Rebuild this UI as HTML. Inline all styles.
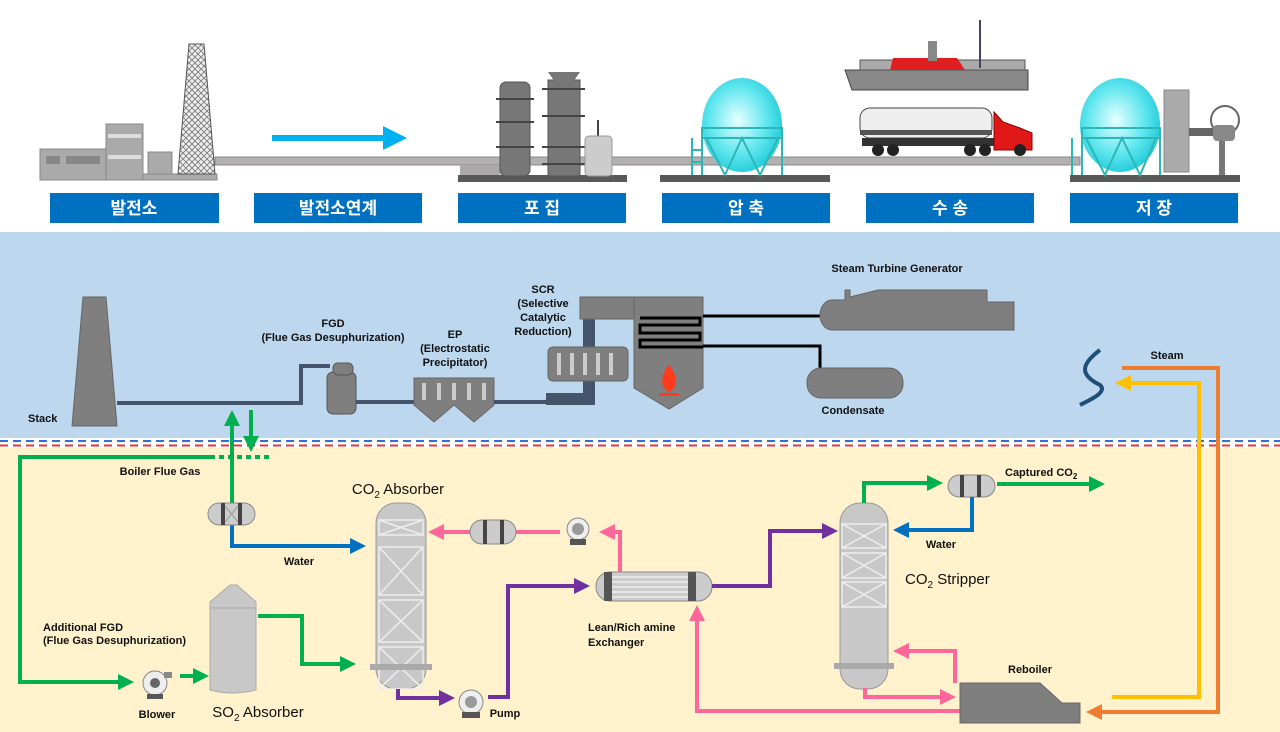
<!DOCTYPE html>
<html><head><meta charset="utf-8"><style>
body{margin:0;background:#fff}
svg{display:block}
text{font-family:"Liberation Sans","Noto Sans CJK KR",sans-serif}
.l{font-size:11px;font-weight:bold;fill:#111}
.big{font-size:15px;fill:#111}
.k{font-size:17px;font-weight:bold;fill:#fff}
</style></head><body>
<svg width="1280" height="732" viewBox="0 0 1280 732" xmlns="http://www.w3.org/2000/svg">
<defs>
<radialGradient id="sph" cx="0.45" cy="0.45" r="0.6"><stop offset="0" stop-color="#e8ffff"/><stop offset="0.6" stop-color="#5fe6ee"/><stop offset="1" stop-color="#1cc8d8"/></radialGradient>
<marker id="aG" markerWidth="4" markerHeight="4" refX="2" refY="2" orient="auto" markerUnits="strokeWidth"><path d="M0,0L4,2L0,4z" fill="#00b050"/></marker>
<marker id="aB" markerWidth="4" markerHeight="4" refX="2" refY="2" orient="auto" markerUnits="strokeWidth"><path d="M0,0L4,2L0,4z" fill="#0070c0"/></marker>
<marker id="aP" markerWidth="4" markerHeight="4" refX="2" refY="2" orient="auto" markerUnits="strokeWidth"><path d="M0,0L4,2L0,4z" fill="#ff6699"/></marker>
<marker id="aV" markerWidth="4" markerHeight="4" refX="2" refY="2" orient="auto" markerUnits="strokeWidth"><path d="M0,0L4,2L0,4z" fill="#7030a0"/></marker>
<marker id="aO" markerWidth="4" markerHeight="4" refX="2" refY="2" orient="auto" markerUnits="strokeWidth"><path d="M0,0L4,2L0,4z" fill="#ed7d31"/></marker>
<marker id="aY" markerWidth="4" markerHeight="4" refX="2" refY="2" orient="auto" markerUnits="strokeWidth"><path d="M0,0L4,2L0,4z" fill="#ffc000"/></marker>
<marker id="aC" markerWidth="4" markerHeight="4" refX="2" refY="2" orient="auto" markerUnits="strokeWidth"><path d="M0,0L4,2L0,4z" fill="#00b0f0"/></marker>
<pattern id="hatch" width="6" height="6" patternUnits="userSpaceOnUse"><rect width="6" height="6" fill="#eee"/><path d="M0,0L6,6M6,0L0,6" stroke="#777" stroke-width="0.8"/></pattern>
</defs>

<!-- TOP -->
<rect x="215" y="157" width="865" height="8" fill="#b3b0b0" stroke="#888" stroke-width="1"/>
<!-- power plant -->
<rect x="40" y="149" width="68" height="31" fill="#aaa" stroke="#888"/>
<rect x="46" y="156" width="14" height="8" fill="#888"/><rect x="66" y="156" width="34" height="8" fill="#888"/>
<rect x="106" y="124" width="37" height="56" fill="#aaa" stroke="#888"/>
<rect x="108" y="134" width="33" height="4" fill="#ddd"/><rect x="108" y="155" width="33" height="4" fill="#ddd"/>
<rect x="148" y="152" width="24" height="24" fill="#aaa" stroke="#888"/>
<rect x="143" y="174" width="74" height="6" fill="#aaa" stroke="#888"/>
<polygon points="189,44 204,44 215,174 178,174" fill="url(#hatch)" stroke="#555"/>
<line x1="272" y1="138" x2="395" y2="138" stroke="#00b0f0" stroke-width="6" marker-end="url(#aC)"/>
<!-- capture -->
<rect x="458" y="175" width="169" height="7" fill="#595959"/>
<rect x="460" y="165" width="40" height="10" fill="#aaa"/>
<rect x="500" y="82" width="30" height="94" rx="6" fill="#777" stroke="#555"/>
<rect x="548" y="80" width="32" height="96" fill="#777" stroke="#555"/>
<polygon points="548,72 580,72 573,82 555,82" fill="#777"/>
<g stroke="#444" stroke-width="2"><line x1="496" y1="99" x2="534" y2="99"/><line x1="496" y1="122" x2="534" y2="122"/><line x1="496" y1="147" x2="534" y2="147"/><line x1="542" y1="89" x2="585" y2="89"/><line x1="542" y1="116" x2="585" y2="116"/><line x1="542" y1="147" x2="585" y2="147"/><line x1="542" y1="164" x2="585" y2="164"/><line x1="598" y1="120" x2="598" y2="140"/></g>
<rect x="585" y="136" width="27" height="40" rx="4" fill="#ccc" stroke="#999"/>
<!-- compress -->
<rect x="660" y="175" width="170" height="7" fill="#595959"/>
<ellipse cx="742" cy="125" rx="40" ry="47" fill="url(#sph)"/>
<g stroke="#2bb7b7" stroke-width="2" fill="none"><rect x="702" y="128" width="80" height="10"/><line x1="702" y1="128" x2="702" y2="175"/><line x1="782" y1="128" x2="782" y2="175"/><path d="M706,138L725,175L742,138L760,175L778,138"/><line x1="692" y1="138" x2="692" y2="175"/><line x1="692" y1="150" x2="702" y2="150"/><line x1="692" y1="162" x2="702" y2="162"/></g>
<!-- ship -->
<polygon points="845,70 1028,70 1028,90 852,90" fill="#888" stroke="#444"/>
<rect x="860" y="60" width="165" height="10" fill="#aaa" stroke="#555"/>
<polygon points="893,58 957,58 965,70 890,70" fill="#e02020"/>
<rect x="928" y="41" width="9" height="20" fill="#888"/>
<line x1="980" y1="20" x2="980" y2="68" stroke="#446" stroke-width="2"/>
<!-- truck -->
<rect x="860" y="108" width="132" height="30" rx="10" fill="#eee" stroke="#444"/>
<rect x="860" y="130" width="132" height="5" fill="#555"/>
<rect x="862" y="138" width="150" height="8" fill="#333"/>
<polygon points="994,112 1003,122 1020,128 1032,133 1032,150 994,150" fill="#e01818" stroke="#800"/>
<g fill="#222"><circle cx="878" cy="150" r="6"/><circle cx="893" cy="150" r="6"/><circle cx="970" cy="150" r="6"/><circle cx="985" cy="150" r="6"/><circle cx="1020" cy="150" r="6"/></g>
<!-- storage -->
<rect x="1070" y="175" width="170" height="7" fill="#595959"/>
<ellipse cx="1120" cy="125" rx="40" ry="47" fill="url(#sph)"/>
<g stroke="#2bb7b7" stroke-width="2" fill="none"><rect x="1082" y="128" width="78" height="10"/><line x1="1082" y1="128" x2="1082" y2="175"/><line x1="1160" y1="128" x2="1160" y2="175"/><path d="M1086,138L1105,175L1122,138L1140,175L1156,138"/><line x1="1072" y1="138" x2="1072" y2="175"/></g>
<rect x="1164" y="90" width="25" height="82" fill="#aaa" stroke="#888"/>
<rect x="1189" y="128" width="25" height="8" fill="#666"/>
<circle cx="1225" cy="120" r="14" fill="none" stroke="#666" stroke-width="2"/>
<rect x="1213" y="125" width="22" height="16" rx="4" fill="#888"/>
<rect x="1219" y="141" width="6" height="34" fill="#777"/>
<!-- label boxes -->
<g fill="#0070c0"><rect x="50" y="193" width="169" height="30"/><rect x="254" y="193" width="168" height="30"/><rect x="458" y="193" width="168" height="30"/><rect x="662" y="193" width="168" height="30"/><rect x="866" y="193" width="168" height="30"/><rect x="1070" y="193" width="168" height="30"/></g>
<g class="k" text-anchor="middle"><text x="134" y="214">발전소</text><text x="338" y="214">발전소연계</text><text x="542" y="214">포 집</text><text x="746" y="214">압 축</text><text x="950" y="214">수 송</text><text x="1154" y="214">저 장</text></g>

<!-- MIDDLE -->
<rect x="0" y="232" width="1280" height="206" fill="#bdd7ee"/>
<rect x="0" y="438" width="1280" height="10" fill="#fff"/>
<line x1="0" y1="441" x2="1280" y2="441" stroke="#2f6fd6" stroke-width="2" stroke-dasharray="8,5"/>
<line x1="0" y1="445.5" x2="1280" y2="445.5" stroke="#e8343c" stroke-width="2" stroke-dasharray="8,5"/>
<rect x="0" y="448" width="1280" height="284" fill="#fff2cc"/>

<polygon points="83,297 106,297 117,426 72,426" fill="#7f7f7f" stroke="#666"/>
<text class="l" x="28" y="422">Stack</text>
<path d="M117,403H301V366H330" fill="none" stroke="#44546a" stroke-width="4"/>
<rect x="327" y="372" width="29" height="42" rx="6" fill="#7f7f7f" stroke="#555"/>
<rect x="333" y="363" width="20" height="12" rx="5" fill="#7f7f7f" stroke="#555"/>
<line x1="356" y1="402" x2="414" y2="402" stroke="#44546a" stroke-width="4"/>
<path d="M414,378H494V405L474,422L454,405L434,422L414,405Z" fill="#7f7f7f" stroke="#666"/>
<g fill="#ccc"><rect x="422" y="383" width="4" height="17"/><rect x="437" y="383" width="4" height="17"/><rect x="452" y="383" width="4" height="17"/><rect x="467" y="383" width="4" height="17"/><rect x="482" y="383" width="4" height="17"/></g>
<line x1="494" y1="402" x2="548" y2="402" stroke="#44546a" stroke-width="4"/>
<path d="M546,399H589V310" fill="none" stroke="#44546a" stroke-width="12"/>
<rect x="548" y="347" width="80" height="34" rx="5" fill="#7f7f7f" stroke="#666"/>
<g fill="#ccc"><rect x="557" y="353" width="4" height="22"/><rect x="570" y="353" width="4" height="22"/><rect x="583" y="353" width="4" height="22"/><rect x="596" y="353" width="4" height="22"/><rect x="609" y="353" width="4" height="22"/></g>
<rect x="580" y="297" width="122" height="22" fill="#7f7f7f" stroke="#666"/>
<polygon points="634,297 703,297 703,388 669,409 634,388" fill="#7f7f7f" stroke="#666"/>
<path d="M640,318H700V325H640V333H700V340H640V347H703" fill="none" stroke="#000" stroke-width="3"/>
<path d="M669,365C660,375 660,388 669,392C678,388 678,375 669,365Z" fill="#ff3b1e"/>
<rect x="659" y="393" width="20" height="3" fill="#ff3b1e"/>
<path d="M703,316H825M703,346H820V368" fill="none" stroke="#000" stroke-width="3"/>
<path d="M832,300H845V290H850V297L878,290H987V302H1014V330H832A12,15 0 0 1 832,300Z" fill="#7f7f7f" stroke="#666"/>
<rect x="807" y="368" width="96" height="30" rx="14" fill="#7f7f7f" stroke="#666"/>
<path d="M1100,350C1080,365 1080,375 1100,385C1108,392 1090,400 1080,405" fill="none" stroke="#1f4e79" stroke-width="4"/>
<g class="l" text-anchor="middle"><text x="333" y="327">FGD</text><text x="333" y="341">(Flue Gas Desuphurization)</text>
<text x="455" y="338">EP</text><text x="455" y="352">(Electrostatic</text><text x="455" y="366">Precipitator)</text>
<text x="543" y="293">SCR</text><text x="543" y="307">(Selective</text><text x="543" y="321">Catalytic</text><text x="543" y="335">Reduction)</text>
<text x="897" y="272">Steam Turbine Generator</text><text x="853" y="414">Condensate</text><text x="1167" y="359">Steam</text></g>

<!-- steam lines -->
<path d="M1122,368H1218V712H1094" fill="none" stroke="#ed7d31" stroke-width="4" marker-end="url(#aO)"/>
<path d="M1112,697H1199V383H1123" fill="none" stroke="#ffc000" stroke-width="4" marker-end="url(#aY)"/>

<!-- BOTTOM green flue gas -->
<line x1="232" y1="505" x2="232" y2="418" stroke="#00b050" stroke-width="4" marker-end="url(#aG)"/>
<line x1="251" y1="410" x2="251" y2="444" stroke="#00b050" stroke-width="4" marker-end="url(#aG)"/>
<line x1="210" y1="457" x2="270" y2="457" stroke="#00b050" stroke-width="4" stroke-dasharray="5,4"/>
<path d="M210,457H20V682H126" fill="none" stroke="#00b050" stroke-width="4" marker-end="url(#aG)"/>
<text class="l" x="160" y="475" text-anchor="middle">Boiler Flue Gas</text>
<path d="M232,522V546H358" fill="none" stroke="#0070c0" stroke-width="4" marker-end="url(#aB)"/>
<text class="l" x="299" y="565" text-anchor="middle">Water</text>
<!-- valve1 -->
<g><rect x="208" y="503" width="47" height="22" rx="11" fill="#ccc" stroke="#888"/><rect x="221" y="503" width="4" height="22" fill="#444"/><rect x="238" y="503" width="4" height="22" fill="#444"/><path d="M225,506L238,522M238,506L225,522" stroke="#999"/></g>
<!-- CO2 absorber -->
<rect x="376" y="503" width="50" height="186" rx="20" fill="#c8c8c8" stroke="#999"/>
<g stroke="#eee" stroke-width="1.5" fill="none"><rect x="379" y="520" width="44" height="15"/><path d="M379,520L423,535M423,520L379,535"/><rect x="379" y="547" width="44" height="48"/><path d="M379,547L423,595M423,547L379,595"/><rect x="379" y="600" width="44" height="42"/><path d="M379,600L423,642M423,600L379,642"/><rect x="379" y="647" width="44" height="42"/><path d="M379,647L423,689M423,647L379,689"/></g>
<rect x="370" y="664" width="62" height="6" fill="#aaa"/>
<text class="big" x="398" y="494" text-anchor="middle">CO<tspan font-size="10" dy="4">2</tspan><tspan dy="-4"> Absorber</tspan></text>
<!-- pink top -->
<path d="M620,572V532H607" fill="none" stroke="#ff6699" stroke-width="4" marker-end="url(#aP)"/>
<path d="M560,532H436" fill="none" stroke="#ff6699" stroke-width="4" marker-end="url(#aP)"/>
<g><rect x="470" y="520" width="46" height="24" rx="12" fill="#ccc" stroke="#888"/><rect x="483" y="520" width="4" height="24" fill="#444"/><rect x="500" y="520" width="4" height="24" fill="#444"/></g>
<g><circle cx="578" cy="529" r="11" fill="#eee" stroke="#888"/><circle cx="578" cy="529" r="6" fill="#999"/><rect x="570" y="539" width="16" height="6" fill="#555"/></g>
<!-- exchanger -->
<rect x="596" y="572" width="116" height="29" rx="14" fill="#ccc" stroke="#888"/>
<g stroke="#fff" stroke-width="1"><line x1="612" y1="577" x2="688" y2="577"/><line x1="612" y1="582" x2="688" y2="582"/><line x1="612" y1="587" x2="688" y2="587"/><line x1="612" y1="592" x2="688" y2="592"/><line x1="612" y1="597" x2="688" y2="597"/></g>
<rect x="604" y="572" width="8" height="29" fill="#555"/><rect x="688" y="572" width="8" height="29" fill="#555"/>
<text class="l" x="588" y="631">Lean/Rich amine</text><text class="l" x="588" y="646">Exchanger</text>
<!-- purple -->
<path d="M398,689V698H447" fill="none" stroke="#7030a0" stroke-width="4" marker-end="url(#aV)"/>
<path d="M488,697H508V586H582" fill="none" stroke="#7030a0" stroke-width="4" marker-end="url(#aV)"/>
<path d="M712,586H770V531H830" fill="none" stroke="#7030a0" stroke-width="4" marker-end="url(#aV)"/>
<g><circle cx="471" cy="702" r="12" fill="#eee" stroke="#888"/><circle cx="471" cy="702" r="6" fill="#999"/><rect x="462" y="712" width="18" height="6" fill="#555"/></g>
<text class="l" x="505" y="717" text-anchor="middle">Pump</text>
<!-- SO2 absorber -->
<path d="M210,602L230,585H237L256,602V690Q233,696 210,690Z" fill="#c8c8c8" stroke="#aaa"/>
<line x1="210" y1="608" x2="256" y2="608" stroke="#aaa"/>
<text class="big" x="258" y="717" text-anchor="middle">SO<tspan font-size="10" dy="4">2</tspan><tspan dy="-4"> Absorber</tspan></text>
<path d="M258,616H302V664H348" fill="none" stroke="#00b050" stroke-width="4" marker-end="url(#aG)"/>
<line x1="180" y1="676" x2="201" y2="676" stroke="#00b050" stroke-width="4" marker-end="url(#aG)"/>
<g><circle cx="155" cy="683" r="12" fill="#eee" stroke="#888"/><circle cx="155" cy="683" r="5" fill="#666"/><rect x="147" y="694" width="16" height="5" fill="#555"/><rect x="164" y="672" width="8" height="6" fill="#888"/></g>
<text class="l" x="157" y="718" text-anchor="middle">Blower</text>
<text class="l" x="43" y="631">Additional FGD</text><text class="l" x="43" y="644">(Flue Gas Desuphurization)</text>
<!-- stripper -->
<rect x="840" y="503" width="48" height="186" rx="20" fill="#c8c8c8" stroke="#999"/>
<g stroke="#eee" stroke-width="1.5" fill="none"><rect x="842" y="524" width="44" height="24"/><path d="M842,524L886,548M886,524L842,548"/><rect x="842" y="553" width="44" height="25"/><path d="M842,553L886,578M886,553L842,578"/><rect x="842" y="582" width="44" height="25"/><path d="M842,582L886,607M886,582L842,607"/></g>
<rect x="834" y="663" width="60" height="6" fill="#aaa"/>
<text class="big" x="905" y="584">CO<tspan font-size="10" dy="4">2</tspan><tspan dy="-4"> Stripper</tspan></text>
<path d="M864,503V483H935" fill="none" stroke="#00b050" stroke-width="4" marker-end="url(#aG)"/>
<g><rect x="948" y="475" width="47" height="22" rx="11" fill="#ccc" stroke="#888"/><rect x="960" y="475" width="4" height="22" fill="#444"/><rect x="977" y="475" width="4" height="22" fill="#444"/></g>
<line x1="997" y1="484" x2="1097" y2="484" stroke="#00b050" stroke-width="4" marker-end="url(#aG)"/>
<text class="l" x="1005" y="476">Captured CO<tspan font-size="8" dy="3">2</tspan></text>
<path d="M972,497V530H901" fill="none" stroke="#0070c0" stroke-width="4" marker-end="url(#aB)"/>
<text class="l" x="941" y="548" text-anchor="middle">Water</text>
<path d="M955,683V651H901" fill="none" stroke="#ff6699" stroke-width="4" marker-end="url(#aP)"/>
<path d="M865,688V697H948" fill="none" stroke="#ff6699" stroke-width="4" marker-end="url(#aP)"/>
<path d="M960,711H697V613" fill="none" stroke="#ff6699" stroke-width="4" marker-end="url(#aP)"/>
<path d="M960,683H1040L1062,703H1080V723H960Z" fill="#7f7f7f" stroke="#666"/>
<text class="l" x="1008" y="673">Reboiler</text>
</svg>
</body></html>
